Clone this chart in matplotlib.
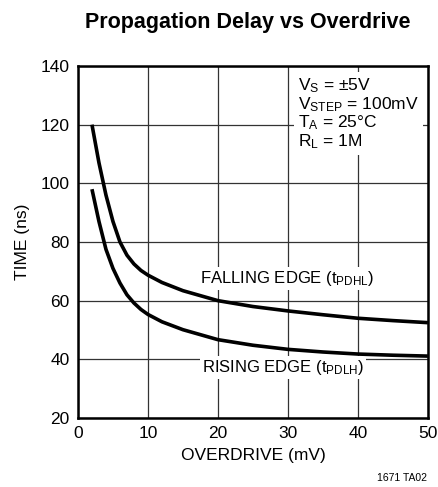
#
# python3 plot.py
#
import matplotlib
matplotlib.use("Agg")
import matplotlib.pyplot as plt

plt.rcParams['font.family'] = ['Liberation Sans Narrow', 'Liberation Sans', 'DejaVu Sans']
plt.rcParams['mathtext.default'] = 'regular'

###########
overdrive = [2, 3, 4, 5, 6, 7, 8, 9, 10, 12, 15, 20, 25, 30, 35, 40, 45, 50]
falling = [120, 107, 96, 87, 80, 75.5, 72.5, 70.3, 68.7, 66.2, 63.4, 60, 58, 56.5, 55.2, 54, 53.2, 52.5]
rising = [98, 87, 77.5, 71, 66, 62, 59.2, 57, 55.3, 52.8, 50.1, 46.7, 44.8, 43.4, 42.5, 41.8, 41.4, 41.1]
xticks = [0, 10, 20, 30, 40, 50]
yticks = [20, 40, 60, 80, 100, 120, 140]

fig = plt.figure(figsize=(4.38, 4.87), dpi=100)
ax = fig.add_axes([0.178, 0.1417, 0.799, 0.7228])

ax.plot(overdrive, falling, color="black", linewidth=2.6, solid_capstyle="butt", zorder=3)
ax.plot(overdrive, rising, color="black", linewidth=2.6, solid_capstyle="butt", zorder=3)

ax.set_xlim(0, 50)
ax.set_ylim(20, 140)
ax.set_xticks(xticks)
ax.set_yticks(yticks)
ax.tick_params(length=0, labelsize=12.5, pad=6)
ax.grid(True, color="#333333", linewidth=0.9)
ax.set_axisbelow(True)
for s in ax.spines.values():
  s.set_linewidth(1.8)

ax.set_xlabel("OVERDRIVE (mV)", fontsize=12.5, labelpad=5)
ax.set_ylabel("TIME (ns)", fontsize=12.5, labelpad=8)
fig.text(0.566, 0.953, "Propagation Delay vs Overdrive", ha="center", va="center",
         fontsize=15.5, fontweight="bold")
fig.text(0.975, 0.008, "1671 TA02", ha="right", va="bottom", fontsize=7.5)

box = dict(facecolor="white", edgecolor="none", pad=1.5)
ax.text(17.4, 67.7, "FALLING EDGE (t$_{PDHL}$)", fontsize=12, ha="left", va="center",
        bbox=box, zorder=2)
ax.text(17.7, 37.2, "RISING EDGE (t$_{PDLH}$)", fontsize=12, ha="left", va="center",
        bbox=box, zorder=2)
cond = "V$_S$ = \u00b15V\nV$_{STEP}$ = 100mV\nT$_A$ = 25\u00b0C\nR$_L$ = 1M"
ax.text(31.5, 136.5, cond, fontsize=12.5, ha="left", va="top", linespacing=1.0,
        bbox=dict(facecolor="white", edgecolor="none", pad=3), zorder=2)

plt.savefig("out.png", dpi=100)
